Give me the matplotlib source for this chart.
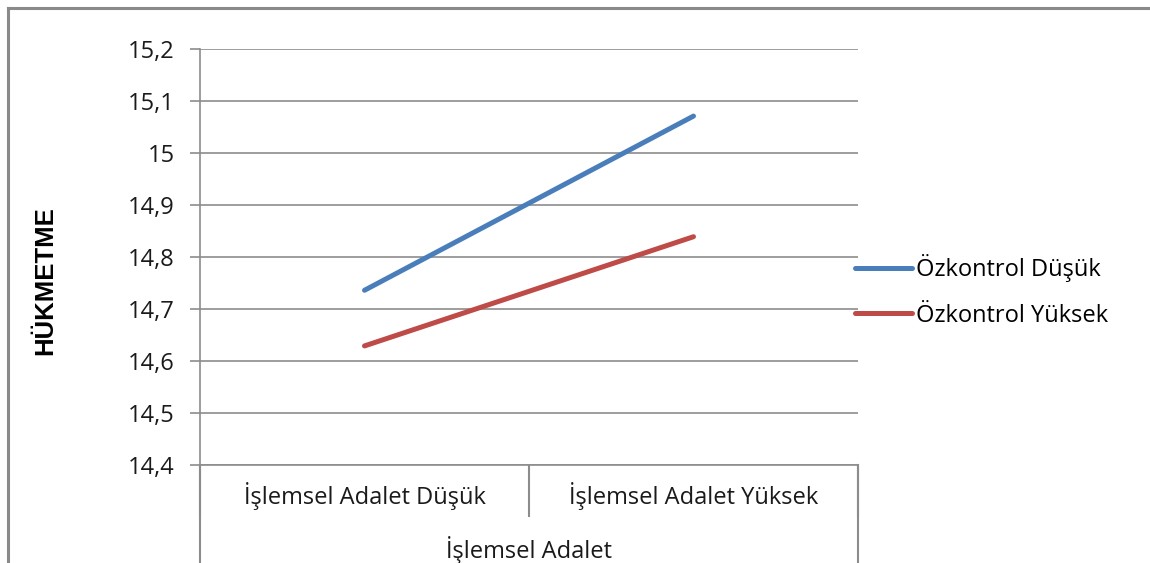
import matplotlib.pyplot as plt
from matplotlib.lines import Line2D

plt.rcParams['font.family'] = ['Open Sans', 'DejaVu Sans']

# data
categories = ['İşlemsel Adalet Düşük', 'İşlemsel Adalet Yüksek']
group_label = 'İşlemsel Adalet'
series_names = ['Özkontrol Düşük', 'Özkontrol Yüksek']
dusuk = [14.736, 15.071]
yuksek = [14.629, 14.839]
yticks = [14.4, 14.5, 14.6, 14.7, 14.8, 14.9, 15.0, 15.1, 15.2]
ytick_labels = ['14,4', '14,5', '14,6', '14,7', '14,8', '14,9', '15', '15,1', '15,2']
colors = ['#4A7EBB', '#BE4B48']
grid_col = '#8c8c8c'
fs = 17

fig = plt.figure(figsize=(11.5, 5.63), dpi=100)
W, H = 1150, 563

# outer chart frame (cut off at right and bottom in the reference)
fig.add_artist(Line2D([8 / W, 1.0], [1 - 8 / H, 1 - 8 / H], color='#8a8a8a', lw=2.2))
fig.add_artist(Line2D([8 / W, 8 / W], [0.0, 1 - 8 / H], color='#8a8a8a', lw=2.2))

ax = fig.add_axes([200 / W, 1 - 465 / H, 658 / W, 416 / H])
xpos = [0.5, 1.5]
for vals, name, c in zip([dusuk, yuksek], series_names, colors):
    ax.plot(xpos, vals, color=c, lw=3.6, solid_capstyle='round', label=name, zorder=3)

ax.set_xlim(0, 2)
ax.set_ylim(14.4, 15.2)
ax.set_yticks(yticks)
ax.set_yticklabels(ytick_labels, fontsize=fs)
ax.yaxis.grid(True, color=grid_col, lw=1.2)
ax.set_axisbelow(True)
ax.tick_params(axis='y', length=7.2, width=1.2, color=grid_col, pad=11, labelcolor='#1a1a1a')

for s in ['top', 'right']:
    ax.spines[s].set_visible(False)
for s in ['left', 'bottom']:
    ax.spines[s].set_color(grid_col)
    ax.spines[s].set_linewidth(1.2)

# category axis with two levels
ax.set_xticks(xpos)
ax.set_xticklabels(categories, fontsize=fs, color='#1a1a1a')
ax.tick_params(axis='x', length=0, pad=12)
ax.set_xticks([0, 1, 2], minor=True)
ax.tick_params(axis='x', which='minor', length=37.4, width=1.5, color=grid_col)
trans = ax.get_xaxis_transform()
for xv in [0, 2]:
    ax.plot([xv, xv], [0, -98 / 416], transform=trans, color=grid_col, lw=1.5, clip_on=False)
ax.text(1, -85 / 416, group_label, transform=trans, ha='center', va='center',
        fontsize=fs, color='#1a1a1a')

fig.text(45 / W, 1 - 281 / H, 'HÜKMETME', rotation=90, ha='center', va='center',
         fontsize=18.5, fontweight='bold', color='#000000',
         family=['Liberation Sans', 'DejaVu Sans'])

leg = ax.legend(loc='center left', bbox_to_anchor=(0.981, 0.418), frameon=False,
                fontsize=fs, handlelength=2.4, handletextpad=0.2, labelspacing=0.9,
                borderaxespad=0, borderpad=0.4)

fig.savefig('out.png', dpi=100, facecolor='white')
